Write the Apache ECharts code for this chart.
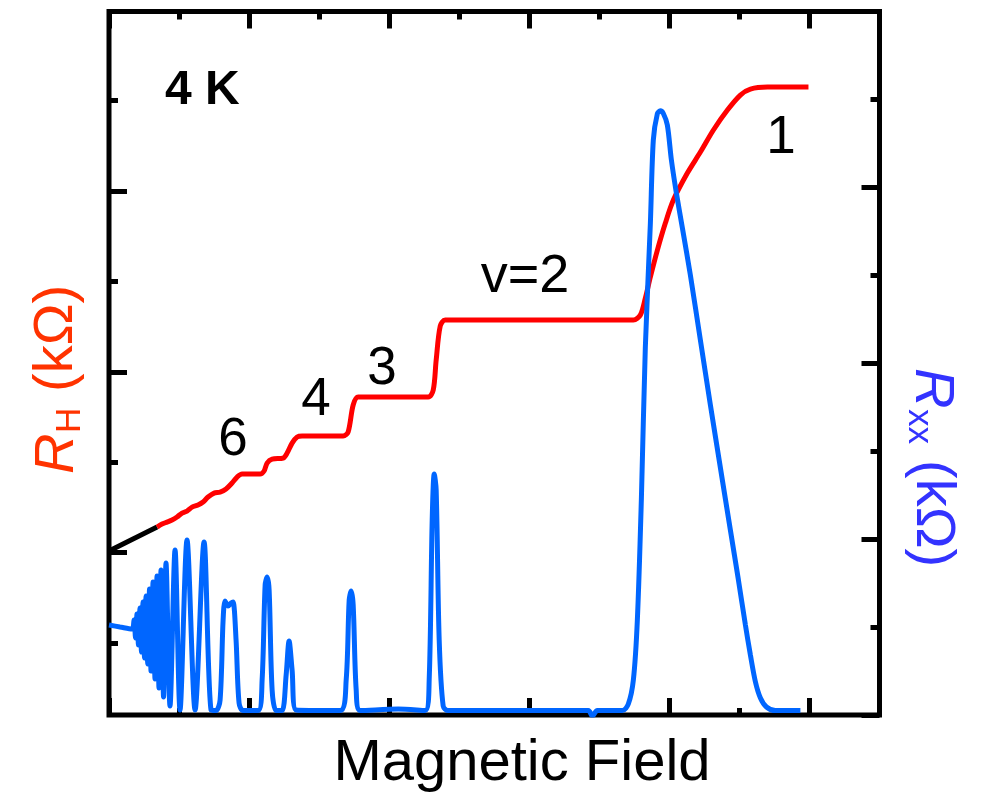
<!DOCTYPE html>
<html>
<head>
<meta charset="utf-8">
<script src="https://cdn.jsdelivr.net/npm/echarts@6/dist/echarts.min.js"></script>
<style>
  html, body { margin: 0; padding: 0; background: #fff; }
  #chart { width: 988px; height: 796px; }
</style>
</head>
<body>
<div id="chart"></div>
<script>
// low-field part of the Hall curve (drawn black)
const fieldLow = [0, 0.686];
const rhLow = [1.018, 1.283];

// Hall resistance R_H (left axis)
const fieldRH = [0.686, 0.757, 0.829, 0.900, 0.971, 1.043, 1.114, 1.186, 1.271, 1.343, 1.414, 1.500, 1.586, 1.671,
  1.757, 1.829, 1.900, 2.157, 2.214, 2.257, 2.329, 2.486, 2.543, 2.614, 2.686, 2.757, 3.343, 3.414, 3.486, 3.557,
  4.557, 4.629, 4.671, 4.729, 4.800, 7.486, 7.586, 7.657, 7.729, 7.829, 7.943, 8.057, 8.257, 8.443, 8.629, 8.829,
  9.014, 9.157, 9.400, 9.986];
const rhValues = [1.283, 1.316, 1.338, 1.361, 1.394, 1.438, 1.460, 1.504, 1.527, 1.560, 1.615, 1.659, 1.670, 1.704,
  1.770, 1.836, 1.869, 1.869, 1.903, 1.991, 2.035, 2.046, 2.102, 2.212, 2.279, 2.290, 2.290, 2.334, 2.633, 2.721,
  2.721, 2.799, 3.131, 3.507, 3.573, 3.573, 3.628, 3.816, 4.049, 4.347, 4.646, 4.900, 5.199, 5.431, 5.675, 5.896,
  6.062, 6.128, 6.150, 6.150];

// longitudinal resistance R_xx (right axis)
const fieldRxx = [0.000, 0.157, 0.329, 0.357, 0.379, 0.400, 0.421, 0.443, 0.464, 0.486, 0.507, 0.529, 0.553, 0.579,
  0.600, 0.629, 0.657, 0.686, 0.714, 0.743, 0.779, 0.814, 0.871, 0.943, 1.014, 1.114, 1.229, 1.357, 1.457, 1.529,
  1.586, 1.629, 1.657, 1.700, 1.743, 1.771, 1.814, 1.857, 1.914, 2.129, 2.186, 2.229, 2.257, 2.286, 2.329, 2.386,
  2.471, 2.529, 2.571, 2.614, 2.671, 3.300, 3.386, 3.429, 3.457, 3.486, 3.529, 3.586, 4.129, 4.514, 4.571, 4.614,
  4.643, 4.671, 4.714, 4.771, 4.843, 6.843, 6.900, 6.971, 7.329, 7.414, 7.486, 7.543, 7.600, 7.657, 7.729, 7.771,
  7.829, 7.871, 7.914, 7.971, 8.029, 8.100, 8.186, 8.300, 8.443, 8.586, 8.729, 8.871, 8.986, 9.086, 9.157, 9.229,
  9.300, 9.386, 9.514, 9.871];
const rxxValues = [1.023, 1.001, 0.978, 1.080, 0.876, 1.149, 0.796, 1.217, 0.716, 1.285, 0.648, 1.353, 0.580, 1.433,
  0.500, 1.512, 0.409, 1.581, 0.307, 1.649, 0.205, 1.728, 0.102, 1.876, 0.057, 1.990, 0.057, 1.967, 0.057, 0.050,
  0.171, 1.080, 1.296, 1.239, 1.274, 1.285, 0.853, 0.136, 0.050, 0.050, 0.398, 1.478, 1.569, 1.421, 0.284, 0.050,
  0.050, 0.455, 0.841, 0.512, 0.057, 0.050, 0.398, 1.308, 1.410, 1.251, 0.284, 0.050, 0.068, 0.050, 0.398, 2.217,
  2.741, 2.559, 0.853, 0.102, 0.050, 0.050, -0.011, 0.050, 0.050, 0.125, 0.398, 1.080, 2.445, 4.185, 5.595, 6.539,
  6.840, 6.870, 6.840, 6.709, 6.311, 5.936, 5.538, 5.003, 4.264, 3.525, 2.809, 2.104, 1.535, 1.023, 0.682, 0.375,
  0.193, 0.091, 0.050, 0.050];

// tick positions on the left axis (it has no round minimum)
const leftMinorTicks = [0, 2, 4, 6];
const leftMajorTicks = [1, 3, 5];

const FONT = '"Liberation Sans", Arial, Helvetica, sans-serif';

function pairs(xs, ys) {
  return xs.map((x, i) => [x, ys[i]]);
}

// one axis per side and per grid; grid 0 carries the short ticks, grid 1 the long ones.
// every tick axis sits "on zero" of an axis whose zero lies on its own edge
function tickAxis(gridIndex, position, len, zeroAxis, extra) {
  return Object.assign({
    type: 'value',
    gridIndex: gridIndex,
    position: position,
    axisLine: { show: false, onZero: true, onZeroAxisIndex: zeroAxis },
    axisLabel: { show: false },
    splitLine: { show: false },
    axisTick: { show: true, inside: true, length: len, lineStyle: { color: '#000', width: 5 } }
  }, extra);
}

function leftAxis(gridIndex, len, zeroAxis, values) {
  const ax = tickAxis(gridIndex, 'left', len, zeroAxis, { min: -0.796, max: 6.986 });
  ax.axisTick.customValues = values;
  return ax;
}

// hidden helper axis whose zero is at the far end (top / right edge)
function edgeZeroAxis(gridIndex) {
  return { type: 'value', gridIndex: gridIndex, show: false, min: -1, max: 0,
    axisLine: { onZero: false }, splitLine: { show: false } };
}

function annotation(text, x, y, size, extra) {
  return {
    type: 'text',
    x: x, y: y,
    style: Object.assign({
      text: text,
      font: size + 'px ' + FONT,
      fill: '#000',
      align: 'center',
      verticalAlign: 'middle'
    }, extra || {})
  };
}

function piece(text, x, y, font, fill) {
  return {
    type: 'text', x: x, y: y,
    style: { text: text, font: font, fill: fill, align: 'left', verticalAlign: 'middle' }
  };
}

const chart = echarts.init(document.getElementById('chart'));

const box = { left: 109, right: 108.5, top: 11.5, bottom: 81 };
const xRange = { min: 0, max: 11 };

const option = {
  backgroundColor: '#fff',
  animation: false,
  grid: [
    Object.assign({ show: true, borderColor: '#000', borderWidth: 5, backgroundColor: 'transparent' }, box),
    Object.assign({ show: false }, box)
  ],
  xAxis: [
    tickAxis(0, 'bottom', 7, 1, Object.assign({ interval: 1 }, xRange)),   // 0
    tickAxis(0, 'top', 8, 4, Object.assign({ interval: 1 }, xRange)),      // 1
    tickAxis(1, 'bottom', 17, 3, Object.assign({ interval: 2 }, xRange)),  // 2
    tickAxis(1, 'top', 17, 5, Object.assign({ interval: 2 }, xRange)),     // 3
    edgeZeroAxis(0),                                                       // 4
    edgeZeroAxis(1)                                                        // 5
  ],
  yAxis: [
    leftAxis(0, 9, 0, leftMinorTicks),                                     // 0
    tickAxis(0, 'right', 9, 4, { min: 0, max: 8, interval: 1 }),           // 1
    leftAxis(1, 18, 2, leftMajorTicks),                                    // 2
    tickAxis(1, 'right', 18, 5, { min: 0, max: 8, interval: 2 }),          // 3
    edgeZeroAxis(0),                                                       // 4
    edgeZeroAxis(1)                                                        // 5
  ],
  series: [
    {
      type: 'line', xAxisIndex: 0, yAxisIndex: 0,
      data: pairs(fieldLow, rhLow),
      showSymbol: false, lineStyle: { color: '#000', width: 5 }
    },
    {
      type: 'line', xAxisIndex: 0, yAxisIndex: 0,
      data: pairs(fieldRH, rhValues),
      smooth: 0.3, showSymbol: false,
      lineStyle: { color: '#ff0000', width: 5 }
    },
    {
      type: 'line', xAxisIndex: 0, yAxisIndex: 1,
      data: pairs(fieldRxx, rxxValues),
      smooth: 0.3, showSymbol: false,
      lineStyle: { color: '#0066ff', width: 5 }
    }
  ],
  graphic: [
    annotation('4 K', 165, 91, 48, { font: 'bold 48px ' + FONT, align: 'left' }),
    annotation('1', 781, 138, 53),
    annotation('v=2', 525, 277, 54),
    annotation('3', 382, 369, 53),
    annotation('4', 316, 400, 53),
    annotation('6', 233, 440, 53),
    annotation('Magnetic Field', 522, 764, 58),
    {
      type: 'group', x: 57, y: 474, rotation: Math.PI / 2,
      children: [
        piece('R', 0, 0, 'italic 56px ' + FONT, '#ff3300'),
        piece('H', 41, 13, '35px ' + FONT, '#ff3300'),
        piece('(kΩ)', 82, 0, '56px ' + FONT, '#ff3300')
      ]
    },
    {
      type: 'group', x: 932, y: 368, rotation: -Math.PI / 2,
      children: [
        piece('R', 0, 0, 'italic 56px ' + FONT, '#3333ff'),
        piece('xx', 41, 13, '35px ' + FONT, '#3333ff'),
        piece('(kΩ)', 92, 0, '56px ' + FONT, '#3333ff')
      ]
    }
  ]
};

chart.setOption(option);
</script>
</body>
</html>
